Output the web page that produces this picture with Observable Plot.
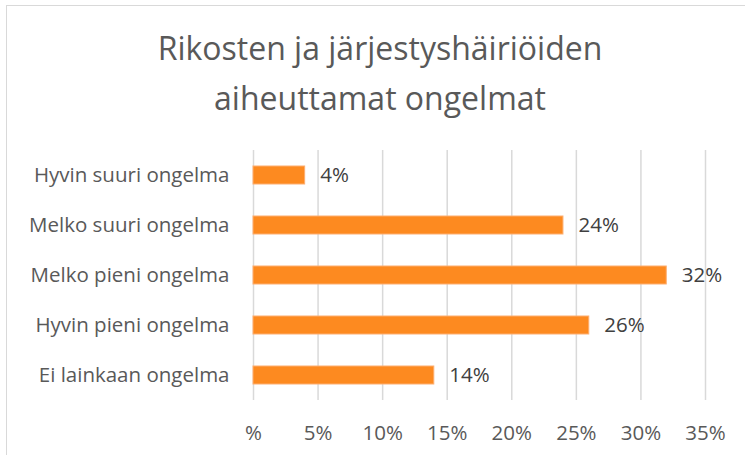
<!DOCTYPE html>
<html>
<head>
<meta charset="utf-8">
<script src="https://cdn.jsdelivr.net/npm/d3@7"></script>
<script src="https://cdn.jsdelivr.net/npm/@observablehq/plot@0.6"></script>
<style>
  html, body { margin: 0; padding: 0; background: #fff; }
  #wrap { position: relative; width: 745px; height: 455px; overflow: hidden; font-family: "Open Sans", sans-serif; }
  #frame { position: absolute; left: 6px; top: 5px; width: 800px; height: 500px; border: 1px solid #d9d9d9; box-sizing: border-box; }
  #title { position: relative; height: 150px; box-sizing: border-box; padding-top: 23px; padding-left: 15px; text-align: center; color: #595959; font-size: 32px; line-height: 50px; font-weight: 400; }
  #chart { position: relative; }
</style>
</head>
<body>
<div id="wrap">
  <div id="frame"></div>
  <div id="title">Rikosten ja järjestyshäiriöiden<br>aiheuttamat ongelmat</div>
  <div id="chart"></div>
</div>
<script>
const categories = ["Hyvin suuri ongelma", "Melko suuri ongelma", "Melko pieni ongelma", "Hyvin pieni ongelma", "Ei lainkaan ongelma"];
const values = [4, 24, 32, 26, 14];
const xTicks = [0, 5, 10, 15, 20, 25, 30, 35];
const xTickLabels = ["%", "5%", "10%", "15%", "20%", "25%", "30%", "35%"];

const data = categories.map((c, i) => ({category: c, value: values[i]}));

const plot = Plot.plot({
  width: 745,
  height: 305,
  marginTop: 0,
  marginBottom: 55,
  marginLeft: 253,
  marginRight: 40,
  style: { fontFamily: "'Open Sans', sans-serif", fontSize: "20px", color: "#595959", background: "transparent" },
  x: { domain: [0, 35], ticks: xTicks, tickFormat: d => xTickLabels[xTicks.indexOf(d)], label: null },
  y: { domain: categories, paddingInner: 0.64, paddingOuter: 0.32, label: null },
  marks: [
    Plot.gridX(xTicks, { stroke: "#d9d9d9", strokeOpacity: 1, strokeWidth: 1.5 }),
    Plot.axisX({ ticks: xTicks, tickFormat: d => xTickLabels[xTicks.indexOf(d)], tickSize: 0, tickPadding: 25, fontSize: 20.5, fill: "#595959" }),
    Plot.axisY({ tickSize: 0, tickPadding: 24, fontSize: 20.5, fill: "#595959" }),
    Plot.barX(data, { x: "value", y: "category", fill: "#fd8a20", stroke: "#fdae70", strokeWidth: 1 }),
    Plot.text(data, { x: "value", y: "category", text: d => d.value + "%", dx: 15, textAnchor: "start", fill: "#404040", fontSize: 20.5 })
  ]
});
document.getElementById("chart").appendChild(plot);
</script>
</body>
</html>
